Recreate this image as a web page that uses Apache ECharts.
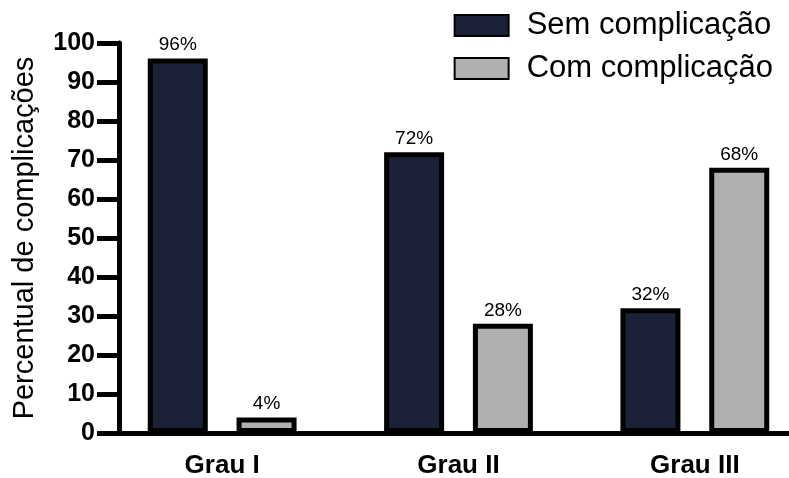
<!DOCTYPE html>
<html>
<head>
<meta charset="utf-8">
<script src="https://cdn.jsdelivr.net/npm/echarts@6/dist/echarts.min.js"></script>
<style>
  html, body { margin: 0; padding: 0; background: #fff; }
  #chart { width: 789px; height: 478px; }
</style>
</head>
<body>
<div id="chart"></div>
<script>
const categories = ["Grau I", "Grau II", "Grau III"];
const semComplicacao = [96, 72, 32];
const comComplicacao = [4, 28, 68];
const yTicks = [0, 10, 20, 30, 40, 50, 60, 70, 80, 90, 100];

const font = "'Liberation Sans', Arial, sans-serif";
const chart = echarts.init(document.getElementById("chart"));

// rótulo em cima de cada barra
const barLabel = {
  show: true,
  position: "top",
  distance: 4,
  formatter: "{c}%",
  color: "#000",
  fontSize: 19,
  fontFamily: font,
};

const option = {
  backgroundColor: "#fff",
  animation: false,
  grid: { left: 104, right: -24, top: 43, bottom: 45, outerBoundsMode: "none" },
  legend: {
    orient: "vertical",
    right: 16,
    top: 10,
    padding: 0,
    itemWidth: 54,
    itemHeight: 21,
    itemGap: 12,
    icon: "rect",
    textStyle: { fontSize: 31, color: "#000", fontFamily: font, padding: [0, 0, 0, 13] },
    data: ["Sem complicação", "Com complicação"],
  },
  xAxis: {
    type: "category",
    data: categories,
    axisLine: { lineStyle: { color: "#000", width: 5 } },
    axisTick: { alignWithLabel: true, length: 21, lineStyle: { color: "#000", width: 5 } },
    axisLabel: { margin: 20, fontSize: 26, fontWeight: "bold", color: "#000", fontFamily: font },
  },
  yAxis: {
    type: "value",
    min: yTicks[0],
    max: yTicks[yTicks.length - 1],
    interval: 10,
    offset: -15,
    name: "Percentual de complicações",
    nameLocation: "middle",
    nameGap: 80,
    nameTextStyle: { fontSize: 29, color: "#000", fontFamily: font },
    splitLine: { show: false },
    axisLine: { show: true, lineStyle: { color: "#000", width: 5 } },
    axisTick: { show: true, length: 22, lineStyle: { color: "#000", width: 5 } },
    axisLabel: { margin: 24, fontSize: 25, fontWeight: "bold", color: "#000", fontFamily: font },
  },
  series: [
    {
      name: "Sem complicação",
      type: "bar",
      data: semComplicacao,
      barWidth: 60,
      barGap: "48%",
      itemStyle: { color: "#1b2136", borderColor: "#000", borderWidth: 5 },
      label: barLabel,
    },
    {
      name: "Com complicação",
      type: "bar",
      data: comComplicacao,
      barWidth: 60,
      barGap: "48%",
      itemStyle: { color: "#b0b0b0", borderColor: "#000", borderWidth: 5 },
      label: barLabel,
    },
  ],
};

chart.setOption(option);
</script>
</body>
</html>
